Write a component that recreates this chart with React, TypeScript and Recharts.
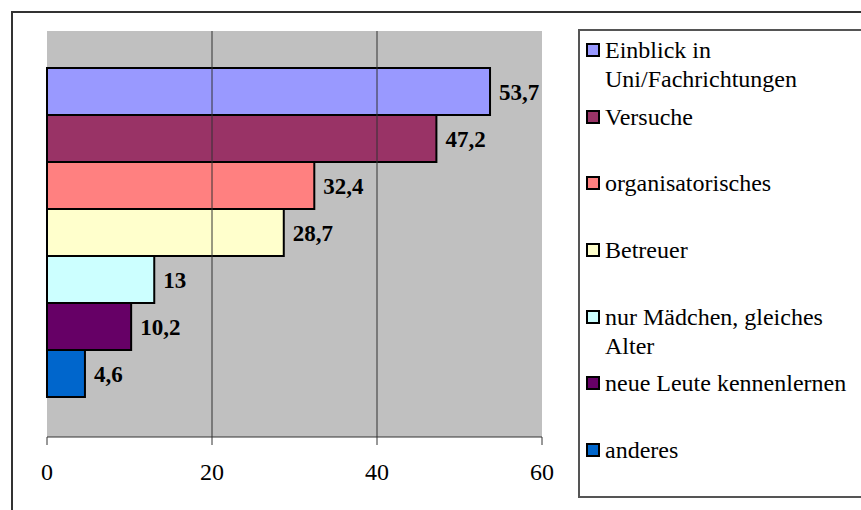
import { BarChart, Bar, XAxis, YAxis, CartesianGrid, ReferenceLine, LabelList, Legend } from 'recharts'

const kategorien = ['Gründe']
const serien = [
  'Einblick in Uni/Fachrichtungen',
  'Versuche',
  'organisatorisches',
  'Betreuer',
  'nur Mädchen, gleiches Alter',
  'neue Leute kennenlernen',
  'anderes',
]
const werte = [53.7, 47.2, 32.4, 28.7, 13, 10.2, 4.6]
const farben = ['#9999FF', '#993366', '#FF8080', '#FFFFCC', '#CCFFFF', '#660066', '#0066CC']
const achsenTicks = [0, 20, 40, 60]
const gitterLinien = [20, 40]

const schrift = '"Liberation Serif", "Times New Roman", serif'

// eine Zeile pro Kategorie, jede Serie als eigene Spalte
const daten = kategorien.map(name => {
  const zeile: Record<string, string | number> = { name }
  serien.forEach((_, i) => { zeile[`s${i}`] = werte[i] })
  return zeile
})

const komma = (v: unknown) => String(v).replace('.', ',')

// Legendenkasten läuft rechts über den Rand hinaus, daher keine rechte Kante
function Legende() {
  return (
    <div
      style={{
        width: 300,
        height: 469,
        boxSizing: 'border-box',
        borderTop: '2px solid #555',
        borderLeft: '2px solid #555',
        borderBottom: '2px solid #555',
        background: '#fff',
        padding: '5px 0 0 6px',
        fontFamily: schrift,
        fontSize: 24,
        lineHeight: '29px',
        color: '#000',
      }}
    >
      {serien.map((s, i) => (
        <div key={s} style={{ height: 66.67, display: 'flex', alignItems: 'flex-start' }}>
          <span
            style={{
              width: 10,
              height: 10,
              border: '2px solid #000',
              background: farben[i],
              marginTop: 7,
              flexShrink: 0,
            }}
          />
          <span style={{ marginLeft: 5, width: 252 }}>{s}</span>
        </div>
      ))}
    </div>
  )
}

export default function App() {
  return (
    <div
      style={{
        position: 'absolute',
        left: 0,
        top: 0,
        width: 861,
        height: 510,
        overflow: 'hidden',
        background: '#fff',
      }}
    >
      <div
        style={{
          position: 'absolute',
          left: 11,
          top: 11,
          width: 900,
          height: 600,
          borderLeft: '2px solid #333',
          borderTop: '2px solid #333',
        }}
      />
      <BarChart
        width={861}
        height={510}
        data={daten}
        layout="vertical"
        margin={{ top: 31, right: 319, bottom: 33, left: 47 }}
        barCategoryGap={37}
        barGap={0}
      >
        <CartesianGrid fill="#C0C0C0" horizontal={false} vertical={false} />
        {gitterLinien.map(x => (
          <ReferenceLine key={x} x={x} stroke="#333" strokeWidth={1} />
        ))}
        <XAxis
          type="number"
          domain={[0, 60]}
          ticks={achsenTicks}
          height={40}
          tickSize={8}
          tickMargin={18}
          stroke="#333"
          tick={{ fill: '#000', fontSize: 24, fontFamily: schrift }}
        />
        <YAxis type="category" dataKey="name" hide />
        <Legend
          layout="vertical"
          align="center"
          verticalAlign="middle"
          wrapperStyle={{ left: 578, top: 29, width: 300, height: 469 }}
          content={() => <Legende />}
        />
        {serien.map((s, i) => (
          <Bar
            key={s}
            dataKey={`s${i}`}
            name={s}
            fill={farben[i]}
            stroke="#000"
            strokeWidth={2}
            isAnimationActive={false}
          >
            <LabelList
              dataKey={`s${i}`}
              position="right"
              offset={9}
              formatter={komma}
              fill="#000"
              fontSize={23}
              fontWeight="bold"
              fontFamily={schrift}
            />
          </Bar>
        ))}
      </BarChart>
    </div>
  )
}
